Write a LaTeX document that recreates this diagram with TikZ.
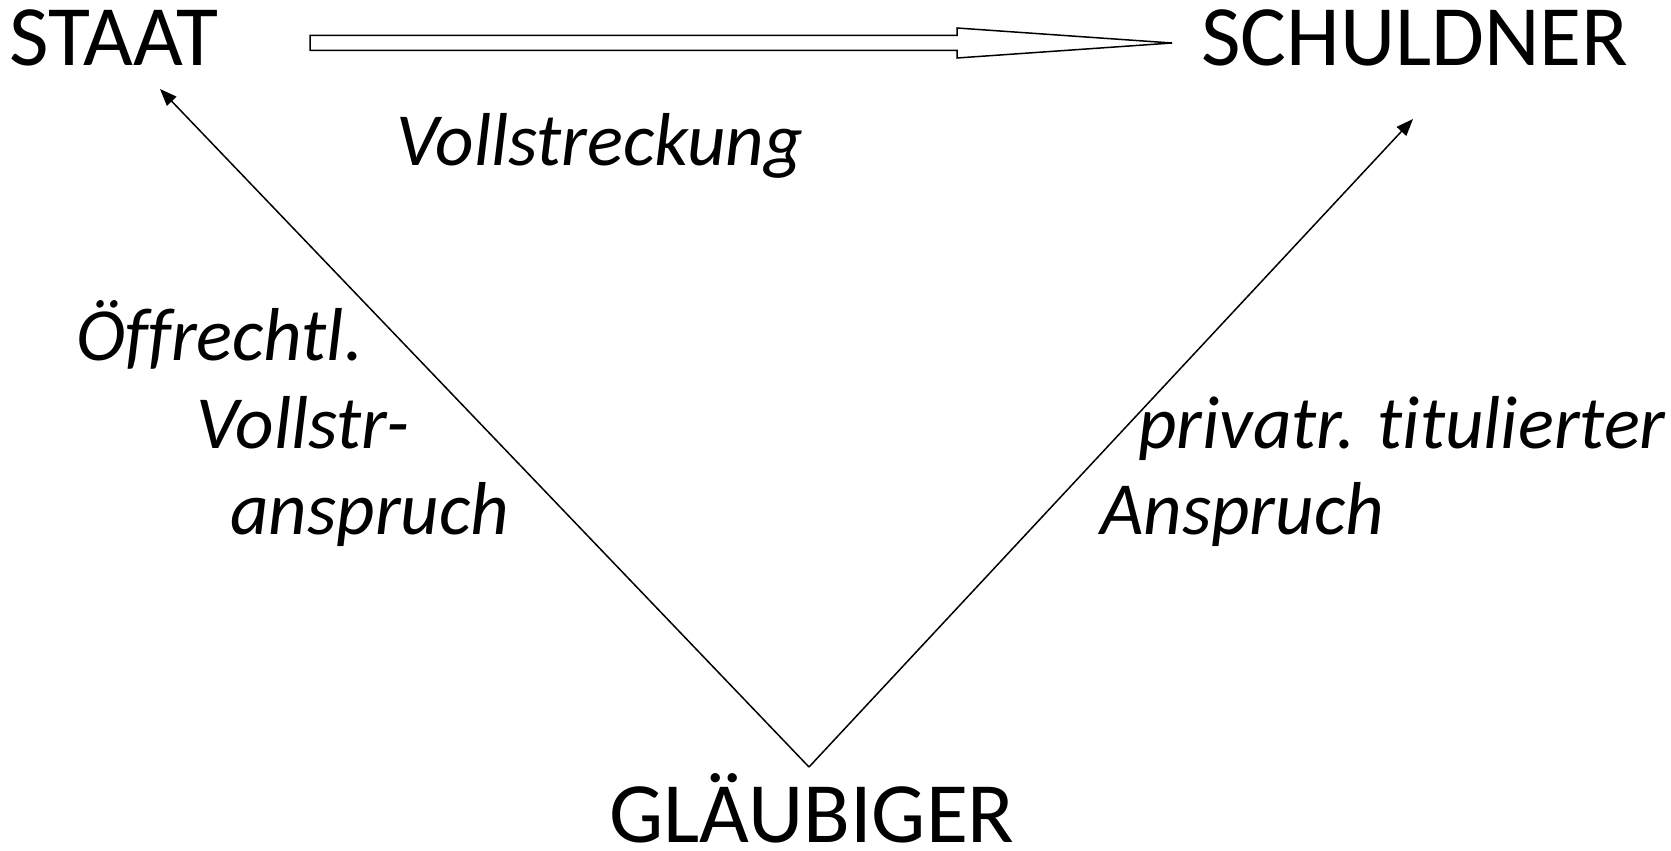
\documentclass[tikz,border=0pt]{standalone}
\usepackage{fontspec}
\setmainfont{Carlito}[Ligatures=NoCommon]
\usetikzlibrary{arrows.meta}

\begin{document}
\begin{tikzpicture}[x=1pt,y=-1pt,
  party/.style={font=\fontsize{86}{100}\selectfont, inner sep=0pt, anchor=base west},
  lab/.style={font=\fontsize{75}{90}\selectfont\itshape, inner sep=0pt, anchor=base west},
  claim/.style={-{Triangle[length=17pt,width=13pt]}, line width=1.5pt}]
\useasboundingbox (0,0) rectangle (1671,851);

% parties
\node [party] (staat) at (9,66) {STAAT};
\node [party] (schuldner) at (1201,66) {SCHULDNER};
\node [party] (glaeubiger) at (609,842) {GLÄUBIGER};

% labels
\node [lab] (vollstr) at (396,165) {Vollstreckung};
\node [lab] (oeff1) at (76,360) {Öffrechtl.};
\node [lab] (oeff2) at (196,448) {Vollstr-};
\node [lab] (oeff3) at (230,534) {anspruch};
\node [lab] (priv1) at (1138,448) {privatr. titulierter};
\node [lab] (priv2) at (1100,534) {Anspruch};

% end points
\coordinate (apex) at (809,767);
\coordinate (stip) at (160,89);
\coordinate (sctip) at (1413,119);
\coordinate (vtail) at (310,43);
\coordinate (vtip) at (1172,43);

\draw [claim] (apex) -- (stip);
\draw [claim] (apex) -- (sctip);

% block arrow
\draw [line width=1.5pt, line join=miter]
  ([yshift=-7.5]vtail) -- ([xshift=-215,yshift=-7.5]vtip) -- ([xshift=-215,yshift=-15]vtip)
  -- (vtip) -- ([xshift=-215,yshift=15]vtip) -- ([xshift=-215,yshift=7.5]vtip)
  -- ([yshift=7.5]vtail) -- cycle;
\end{tikzpicture}
\end{document}
